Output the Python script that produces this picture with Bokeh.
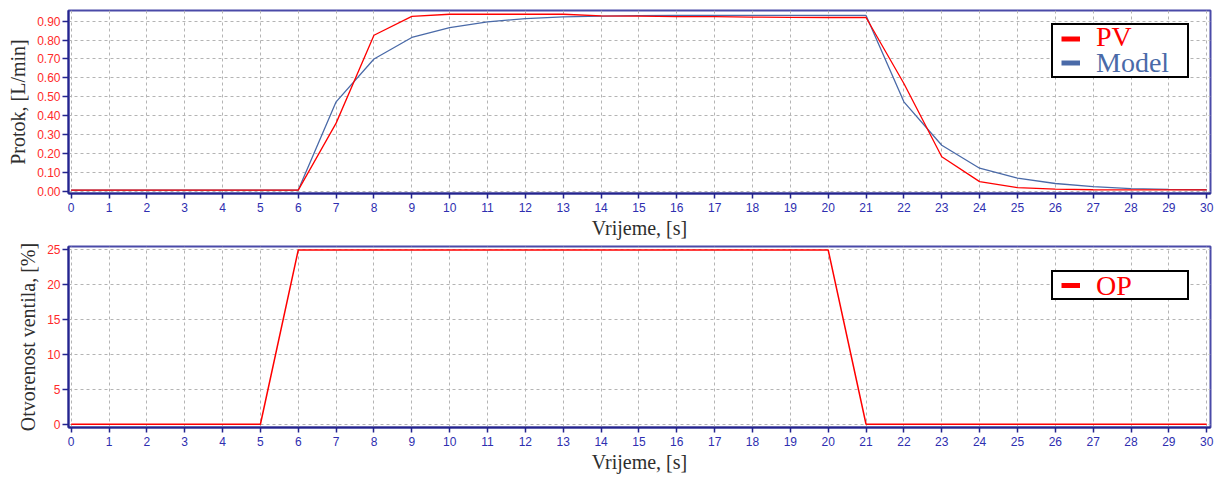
from bokeh.plotting import figure
from bokeh.models import (FixedTicker, PrintfTickFormatter, Range1d, Legend,
                          LegendItem)
from bokeh.layouts import column
from bokeh.embed import file_html
from bokeh.resources import INLINE

# ---------------- data ----------------
time_s = [0, 1, 2, 3, 4, 5, 6, 7, 8, 9, 10, 11, 12, 13, 14, 15,
          16, 17, 18, 19, 20, 21, 22, 23, 24, 25, 26, 27, 28, 29, 30]
pv_flow = [0.005, 0.005, 0.005, 0.005, 0.005, 0.005, 0.005, 0.36, 0.826, 0.926,
           0.937, 0.937, 0.937, 0.937, 0.929, 0.927, 0.925, 0.925, 0.922, 0.921,
           0.920, 0.920, 0.570, 0.182, 0.050, 0.018, 0.010, 0.007, 0.006, 0.006,
           0.006]
model_flow = [0.005, 0.005, 0.005, 0.005, 0.005, 0.005, 0.005, 0.473, 0.700, 0.814,
              0.866, 0.897, 0.914, 0.923, 0.927, 0.930, 0.931, 0.931, 0.931, 0.931,
              0.931, 0.931, 0.473, 0.243, 0.121, 0.068, 0.040, 0.023, 0.013, 0.009,
              0.007]
op_pct = [0, 0, 0, 0, 0, 0, 25, 25, 25, 25, 25, 25, 25, 25, 25, 25,
          25, 25, 25, 25, 25, 0, 0, 0, 0, 0, 0, 0, 0, 0, 0]

x_ticks = list(range(0, 31))
flow_ticks = [0.0, 0.1, 0.2, 0.3, 0.4, 0.5, 0.6, 0.7, 0.8, 0.9]
op_ticks = [0, 5, 10, 15, 20, 25]

x_label = "Vrijeme, [s]"
flow_label = "Protok, [L/min]"
op_label = "Otvorenost ventila, [%]"

# ---------------- styles ----------------
NAVY = "#24248e"
OUTLINE = "#4a4aa8"
RED = "#ff0000"
BLUE = "#4a6aa8"
YTICK = "#ff2a2a"
XTICK = "#2e2eb0"
SERIF = "Liberation Serif"
SANS = "Liberation Sans"
W = 1218


def style(p, yticks):
    p.outline_line_color = OUTLINE
    p.outline_line_width = 2
    p.background_fill_color = "white"
    p.border_fill_color = "white"
    p.xaxis.ticker = FixedTicker(ticks=x_ticks)
    p.yaxis.ticker = FixedTicker(ticks=yticks)
    for ax in (p.xaxis[0], p.yaxis[0]):
        ax.axis_line_color = NAVY
        ax.axis_line_width = 2
        ax.major_tick_line_color = NAVY
        ax.major_tick_line_width = 1.5
        ax.major_tick_in = 0
        ax.minor_tick_line_color = None
        ax.axis_label_text_font = SERIF
        ax.axis_label_text_font_size = "20px"
        ax.axis_label_text_font_style = "normal"
        ax.axis_label_text_color = "#2e2e2e"
        ax.major_label_text_font = SANS
        ax.major_label_text_font_size = "12px"
    p.xaxis.major_tick_out = 5
    p.xaxis.major_label_standoff = 4
    p.xaxis.axis_label_standoff = 2
    p.yaxis.major_tick_out = 6
    p.yaxis.major_label_standoff = 2
    p.yaxis.axis_label_standoff = 5
    p.xaxis.major_label_text_color = XTICK
    p.yaxis.major_label_text_color = YTICK
    for g in (p.xgrid[0], p.ygrid[0]):
        g.grid_line_color = "#b4b4b4"
        g.grid_line_dash = "3 3"
        g.grid_line_width = 1


def make_legend(p, entries, xs, ys, vx, vy, glyph_h, spacing, text_ys):
    # box with swatches (blank labels)
    items = []
    for (name, color), yv in zip(entries, ys):
        # one-point line: draws nothing in the plot, only the legend swatch
        sw = p.line(x=xs[:1], y=yv[:1], line_color=color, line_width=5)
        items.append(LegendItem(label=" ", renderers=[sw]))
    box = Legend(items=items, location=(vx, vy), orientation="vertical",
                 padding=8, spacing=spacing, margin=0,
                 glyph_width=19, glyph_height=glyph_h,
                 label_width=81, label_height=glyph_h, label_standoff=18,
                 label_text_font_size="1px",
                 border_line_color="black", border_line_width=2,
                 border_line_alpha=1,
                 background_fill_color="white", background_fill_alpha=1)
    p.add_layout(box)
    # coloured texts: one transparent legend per entry, drawn over the box
    for (name, color), yv, ty in zip(entries, ys, text_ys):
        inv = p.line(x=xs[:1], y=yv[:1], line_color=color, line_alpha=0)
        txt = Legend(items=[LegendItem(label=name, renderers=[inv])],
                     location=(vx + 44, ty), orientation="vertical",
                     padding=0, spacing=0, margin=0,
                     glyph_width=1, glyph_height=1, label_standoff=0,
                     label_text_font=SERIF, label_text_font_size="28px",
                     label_text_color=color,
                     border_line_alpha=0, background_fill_alpha=0)
        p.add_layout(txt)


# ---------------- top figure ----------------
p1 = figure(width=W, height=241, output_backend="svg", toolbar_location=None,
            x_range=Range1d(-0.07, 30.1), y_range=Range1d(-0.013, 0.957),
            min_border_left=68, min_border_right=8, min_border_top=10,
            min_border_bottom=47, x_axis_label=x_label, y_axis_label=flow_label)
style(p1, flow_ticks)
p1.yaxis.formatter = PrintfTickFormatter(format="%.2f")
p1.line(time_s, model_flow, line_color=BLUE, line_width=1.3)
p1.line(time_s, pv_flow, line_color=RED, line_width=1.3)
make_legend(p1, [("PV", RED), ("Model", BLUE)], time_s, [pv_flow, model_flow],
            983, 115, 11, 13, [140, 114])

# ---------------- bottom figure ----------------
p2 = figure(width=W, height=234, output_backend="svg", toolbar_location=None,
            x_range=Range1d(-0.07, 30.1), y_range=Range1d(-0.47, 25.5),
            min_border_left=68, min_border_right=8, min_border_top=5,
            min_border_bottom=45, x_axis_label=x_label, y_axis_label=op_label)
style(p2, op_ticks)
p2.line(time_s, op_pct, line_color=RED, line_width=1.5)
make_legend(p2, [("OP", RED)], time_s, [op_pct], 983, 127, 10, 0, [125])

layout = column(p1, p2)
open("out.html", "w").write(file_html(layout, INLINE))
